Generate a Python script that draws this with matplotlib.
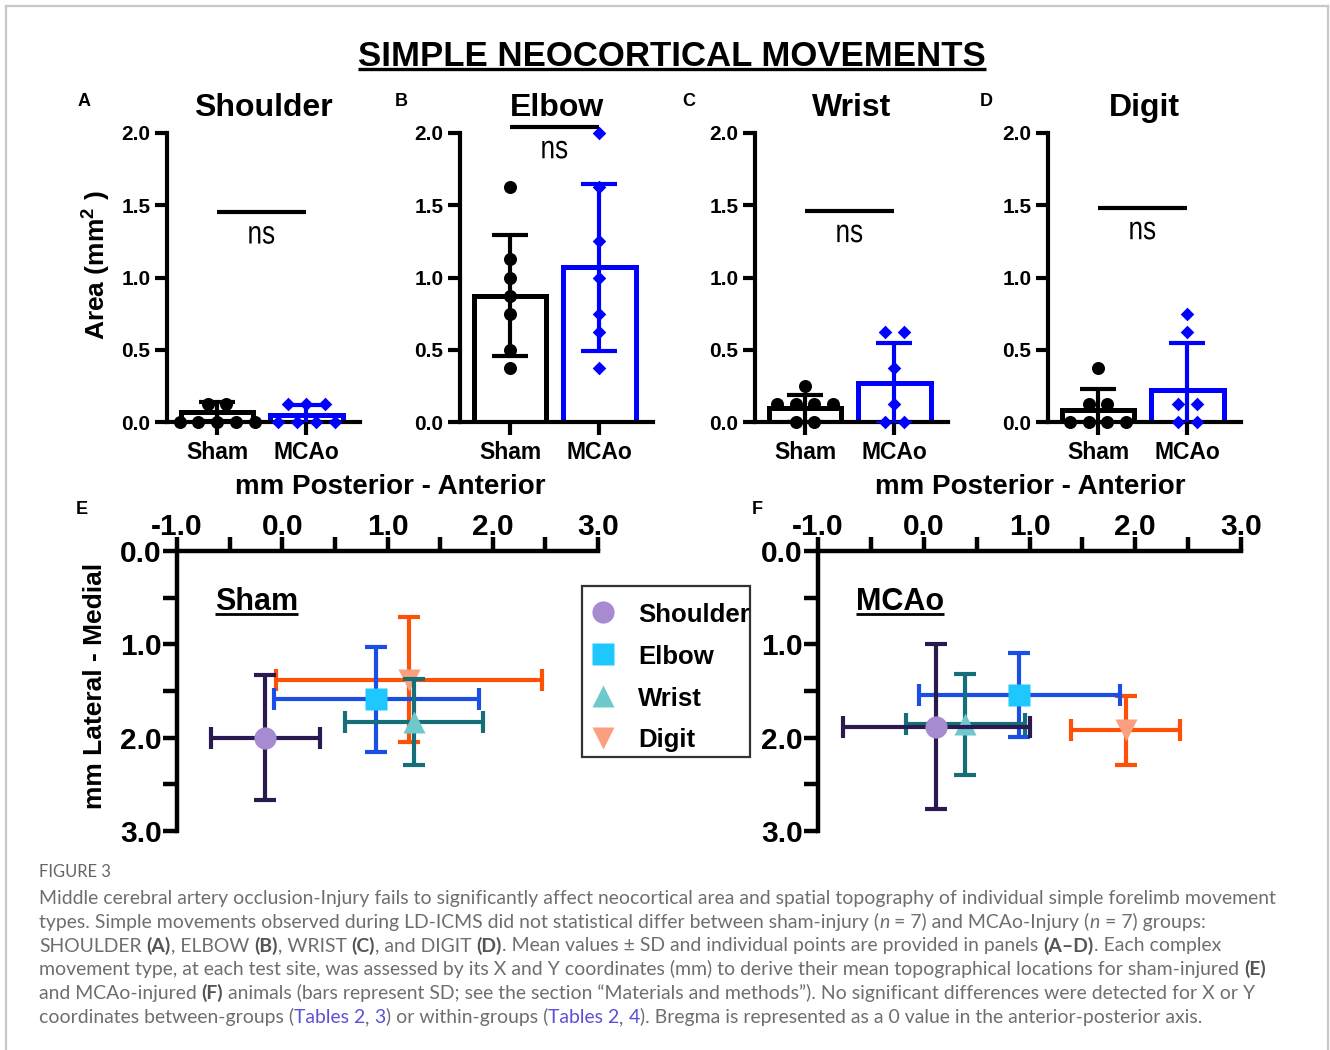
"""
Figure 3: simple neocortical movements (area bars + topographic centroids).
"""
import matplotlib
matplotlib.use("Agg")
import matplotlib.pyplot as plt
import numpy as np
from matplotlib.font_manager import FontProperties
from matplotlib.lines import Line2D
from matplotlib.patches import PathPatch, Rectangle
from matplotlib.textpath import TextPath
from matplotlib.transforms import Affine2D, IdentityTransform

plt.rcParams.update({
    "font.family": "Liberation Sans",
    "font.weight": "bold",
    "axes.titleweight": "bold",
    "axes.unicode_minus": False,
    "mathtext.fontset": "custom",
    "mathtext.rm": "Liberation Sans:bold",
    "mathtext.it": "Liberation Sans:bold",
    "mathtext.bf": "Liberation Sans:bold",
})

W, H = 1330, 1050
DPI = 100

# --------------------------- data: panels A-D ---------------------------
movements = ["Shoulder", "Elbow", "Wrist", "Digit"]
groups = ["Sham", "MCAo"]

sham_mean = [0.07, 0.875, 0.095, 0.08]
sham_sd = [0.065, 0.42, 0.095, 0.15]
mcao_mean = [0.05, 1.07, 0.27, 0.22]
mcao_sd = [0.07, 0.58, 0.28, 0.33]

shoulder_sham = [0, 0, 0, 0, 0, 0.125, 0.125]
shoulder_mcao = [0, 0, 0, 0, 0.125, 0.125, 0.125]
elbow_sham = [1.625, 1.125, 1.0, 0.875, 0.75, 0.5, 0.375]
elbow_mcao = [2.0, 1.625, 1.25, 1.0, 0.75, 0.625, 0.375]
wrist_sham = [0.25, 0.125, 0.125, 0.125, 0.125, 0, 0]
wrist_mcao = [0.625, 0.625, 0.375, 0.125, 0, 0]
digit_sham = [0.375, 0.125, 0.125, 0, 0, 0, 0]
digit_mcao = [0.75, 0.625, 0.125, 0.125, 0, 0]

ns_level = [1.45, 2.04, 1.46, 1.48]
area_ticks = [0.0, 0.5, 1.0, 1.5, 2.0]

# --------------------------- data: panels E-F ---------------------------
sham_x = [-0.16, 0.895, 1.255, 1.205]
sham_xerr = [0.52, 0.975, 0.657, 1.26]
sham_y = [2.0, 1.59, 1.83, 1.38]
sham_yerr = [0.67, 0.565, 0.46, 0.67]

mcao_x = [0.12, 0.905, 0.393, 1.91]
mcao_xerr = [0.887, 0.948, 0.564, 0.516]
mcao_y = [1.885, 1.54, 1.855, 1.923]
mcao_yerr = [0.884, 0.45, 0.54, 0.366]

ap_ticks = [-1.0, 0.0, 1.0, 2.0, 3.0]
ml_ticks = [0.0, 1.0, 2.0, 3.0]

BLUE = "#0000FF"
MARKERS = {"Shoulder": "o", "Elbow": "s", "Wrist": "^", "Digit": "v"}
FACE = {"Shoulder": "#A68BD0", "Elbow": "#1EC8FF", "Wrist": "#6EC8CC", "Digit": "#FBA07E"}
ERRC = {"Shoulder": "#2A1A50", "Elbow": "#1A4FE6", "Wrist": "#166E78", "Digit": "#FF5008"}
DRAW_ORDER = ["Digit", "Elbow", "Wrist", "Shoulder"]

fig = plt.figure(figsize=(W / DPI, H / DPI), dpi=DPI)


def px_axes(x0, y0, x1, y1):
    return fig.add_axes([x0 / W, 1 - y1 / H, (x1 - x0) / W, (y1 - y0) / H])


def fx(x):
    return x / W


def fy(y):
    return 1 - y / H


def swarm(vals, step):
    """Spread equal values side by side, like a GraphPad scatter."""
    vals = np.asarray(vals, float)
    off = np.zeros(len(vals))
    for v in np.unique(vals):
        idx = np.where(vals == v)[0]
        off[idx] = (np.arange(len(idx)) - (len(idx) - 1) / 2) * step
    return off


def underline(t, gap_px, lw=2.2):
    fig.canvas.draw()
    bb = t.get_window_extent()
    base = t.get_transform().transform(t.get_position())[1]
    y = base - gap_px
    fig.add_artist(Line2D([bb.x0, bb.x1], [y, y], transform=IdentityTransform(),
                          color="black", lw=lw, solid_capstyle="butt"))


def narrow_text(ax, x, y, s, size, squeeze):
    """Condensed text (GraphPad 'ns'): a text path squeezed horizontally."""
    prop = FontProperties(family="Liberation Sans", weight="normal")
    tp = TextPath((0, 0), s, size=size, prop=prop)
    ext = tp.get_extents()
    k = DPI / 72
    bx, by = ax.transData.transform((x, y))
    tr = (Affine2D().translate(-(ext.x0 + ext.width / 2), 0)
          .scale(k * squeeze, k).translate(bx, by))
    fig.add_artist(PathPatch(tr.transform_path(tp), transform=IdentityTransform(),
                             color="black", lw=0))


# --------------------------- figure border ---------------------------
for xs, ys in [([6, 1328], [6, 6]), ([6, 6], [6, 1050]), ([1328, 1328], [6, 1050])]:
    fig.add_artist(Line2D([fx(v) for v in xs], [fy(v) for v in ys],
                          transform=fig.transFigure, color="#C8C8C8", lw=1.6))

# --------------------------- title ---------------------------
title = fig.text(fx(672), fy(66), "SIMPLE NEOCORTICAL MOVEMENTS", ha="center",
                 va="baseline", fontsize=25)
underline(title, 3, lw=2.4)

# --------------------------- A-D bar panels ---------------------------
points = [(shoulder_sham, shoulder_mcao), (elbow_sham, elbow_mcao),
          (wrist_sham, wrist_mcao), (digit_sham, digit_mcao)]
lefts = [167, 460, 755, 1048]
letters_top = [(84, "A"), (401, "B"), (689, "C"), (986, "D")]

for i, name in enumerate(movements):
    ax = px_axes(lefts[i], 133, lefts[i] + 193, 422)
    means = [sham_mean[i], mcao_mean[i]]
    sds = [sham_sd[i], mcao_sd[i]]
    cols = ["black", BLUE]
    ax.bar([0, 1], means, width=0.81, color="white", edgecolor=cols,
           linewidth=3.6, zorder=2)
    for g in range(2):
        ax.errorbar(g, means[g], yerr=sds[g], color=cols[g], lw=3,
                    capsize=13, capthick=3, zorder=3)
        vals = points[i][g]
        off = swarm(vals, 0.21)
        if g == 0:
            ax.scatter(g + off, vals, s=88, color="black", zorder=4, clip_on=False,
                       linewidths=0)
        else:
            ax.scatter(g + off, vals, s=48, marker="D", color=BLUE, zorder=4,
                       clip_on=False, linewidths=0)
    ax.plot([0, 1], [ns_level[i]] * 2, color="black", lw=3, clip_on=False,
            solid_capstyle="butt")
    ax.set_xlim(-0.56, 1.6)
    ax.set_ylim(0, 2)
    narrow_text(ax, 0.5, ns_level[i] - 0.215, "ns", 23.5, 0.8)
    ax.set_yticks(area_ticks)
    ax.set_yticklabels([f"{v:.1f}" for v in area_ticks])
    ax.set_xticks([0, 1])
    ax.set_xticklabels(groups)
    ax.tick_params(axis="y", width=3, length=9, labelsize=15, pad=3)
    ax.tick_params(axis="x", width=3, length=9, labelsize=16.5, pad=5)
    for s in ("top", "right"):
        ax.spines[s].set_visible(False)
    for s in ("left", "bottom"):
        ax.spines[s].set_linewidth(3)
        ax.spines[s].set_capstyle("projecting")
    ax.set_title(name, fontsize=23, pad=12)
    fig.text(fx(letters_top[i][0]), fy(101), letters_top[i][1], ha="center",
             va="center", fontsize=13)

fig.text(fx(97), fy(265), "Area (mm$^{2}$ )", rotation=90, ha="center",
         va="center", fontsize=19)

# --------------------------- E-F topography ---------------------------
topo = [("Sham", sham_x, sham_xerr, sham_y, sham_yerr, 177, 598, 82, "E", 390),
        ("MCAo", mcao_x, mcao_xerr, mcao_y, mcao_yerr, 818, 1241, 757, "F", 1030)]

for grp, xs, xe, ys, ye, x0, x1, lx, letter, xl in topo:
    ax = px_axes(x0, 551, x1, 831)
    for name in DRAW_ORDER:
        j = movements.index(name)
        ax.errorbar(xs[j], ys[j], xerr=xe[j], yerr=ye[j], fmt="none",
                    ecolor=ERRC[name], elinewidth=3, capsize=8, capthick=3)
        ax.plot(xs[j], ys[j], MARKERS[name], ms=16, color=FACE[name], mec="none")
    ax.set_xlim(-1, 3)
    ax.set_ylim(3, 0)
    ax.xaxis.tick_top()
    ax.set_xticks(ap_ticks)
    ax.set_xticklabels([f"{v:.1f}" for v in ap_ticks])
    ax.set_xticks([-0.5, 0.5, 1.5, 2.5], minor=True)
    ax.set_yticks(ml_ticks)
    ax.set_yticklabels([f"{v:.1f}" for v in ml_ticks])
    ax.set_yticks([0.5, 1.5, 2.5], minor=True)
    ax.tick_params(which="both", width=3.2, length=10)
    ax.tick_params(axis="x", labelsize=21.5, pad=-3)
    ax.tick_params(axis="y", labelsize=21.5, pad=1)
    for s in ("bottom", "right"):
        ax.spines[s].set_visible(False)
    for s in ("top", "left"):
        ax.spines[s].set_linewidth(3.2)
        ax.spines[s].set_capstyle("projecting")
    t = ax.text(-0.64, 0.634, grp, ha="left", va="baseline", fontsize=22)
    underline(t, 4, lw=2)
    fig.text(fx(lx), fy(509), letter, ha="center", va="center", fontsize=13)
    fig.text(fx(xl), fy(487), "mm Posterior - Anterior", ha="center",
             va="center", fontsize=20)

fig.text(fx(95), fy(686), "mm Lateral - Medial", rotation=90, ha="center",
         va="center", fontsize=19)

# legend box for panel E (GraphPad style, text running to the frame)
fig.add_artist(Rectangle((fx(582), fy(757)), fx(750) - fx(582), fy(586) - fy(757),
                         transform=fig.transFigure, fill=False, ec="#333333", lw=1.6))
for k, name in enumerate(movements):
    yk = 612 + 42 * k
    fig.add_artist(Line2D([fx(603)], [fy(yk)], marker=MARKERS[name], ms=16,
                          color=FACE[name], mec="none", ls="none",
                          transform=fig.transFigure))
    fig.text(fx(638), fy(yk), name, ha="left", va="center_baseline", fontsize=18.5)

# --------------------------- caption ---------------------------
CAP = "#6E6E6E"
STYLE = {
    "n": dict(color=CAP, fontweight="normal"),
    "b": dict(color="#555555", fontweight="bold"),
    "i": dict(color=CAP, fontweight="normal", style="italic"),
    "l": dict(color="#5B51D8", fontweight="normal"),
}
caption = [
    [("Middle cerebral artery occlusion-Injury fails to significantly affect neocortical "
      "area and spatial topography of individual simple forelimb movement", "n")],
    [("types. Simple movements observed during LD-ICMS did not statistical differ between "
      "sham-injury (", "n"), ("n", "i"), (" = 7) and MCAo-Injury (", "n"), ("n", "i"),
     (" = 7) groups:", "n")],
    [("SHOULDER ", "n"), ("(A)", "b"), (", ELBOW ", "n"), ("(B)", "b"), (", WRIST ", "n"),
     ("(C)", "b"), (", and DIGIT ", "n"), ("(D)", "b"),
     (". Mean values \u00b1 SD and individual points are provided in panels ", "n"),
     ("(A\u2013D)", "b"), (". Each complex", "n")],
    [("movement type, at each test site, was assessed by its X and Y coordinates (mm) to "
      "derive their mean topographical locations for sham-injured ", "n"), ("(E)", "b")],
    [("and MCAo-injured ", "n"), ("(F)", "b"),
     (" animals (bars represent SD; see the section \u201cMaterials and methods\u201d). "
      "No significant differences were detected for X or Y", "n")],
    [("coordinates between-groups (", "n"), ("Tables 2", "l"), (", ", "n"), ("3", "l"),
     (") or within-groups (", "n"), ("Tables 2", "l"), (", ", "n"), ("4", "l"),
     ("). Bregma is represented as a 0 value in the anterior-posterior axis.", "n")],
]
cap_baselines = [904, 928, 951.5, 975, 999, 1023]

renderer = fig.canvas.get_renderer()
probe = fig.text(0, 0, caption[0][0][0], fontsize=12, family="Lato",
                 fontweight="normal")
cap_size = 12 * 1235 / probe.get_window_extent(renderer).width
probe.remove()


def text_w(s, **kw):
    t = fig.text(0, 0, s, fontsize=cap_size, family="Lato", **kw)
    w = t.get_window_extent(renderer).width
    t.remove()
    return w


space_w = text_w("a a", fontweight="normal") - text_w("aa", fontweight="normal")

for parts, yb in zip(caption, cap_baselines):
    x = 39
    for txt, kind in parts:
        core = txt.strip(" ")
        x += (len(txt) - len(txt.lstrip(" "))) * space_w
        t = fig.text(fx(x), fy(yb), core, fontsize=cap_size, family="Lato",
                     va="baseline", ha="left", **STYLE[kind])
        x += t.get_window_extent(renderer).width
        x += (len(txt) - len(txt.rstrip(" "))) * space_w

fig.text(fx(39), fy(877), "FIGURE 3", fontsize=cap_size * 0.85, family="Lato",
         color="#666666", fontweight="normal", va="baseline", ha="left")

fig.savefig("out.png", dpi=DPI)
